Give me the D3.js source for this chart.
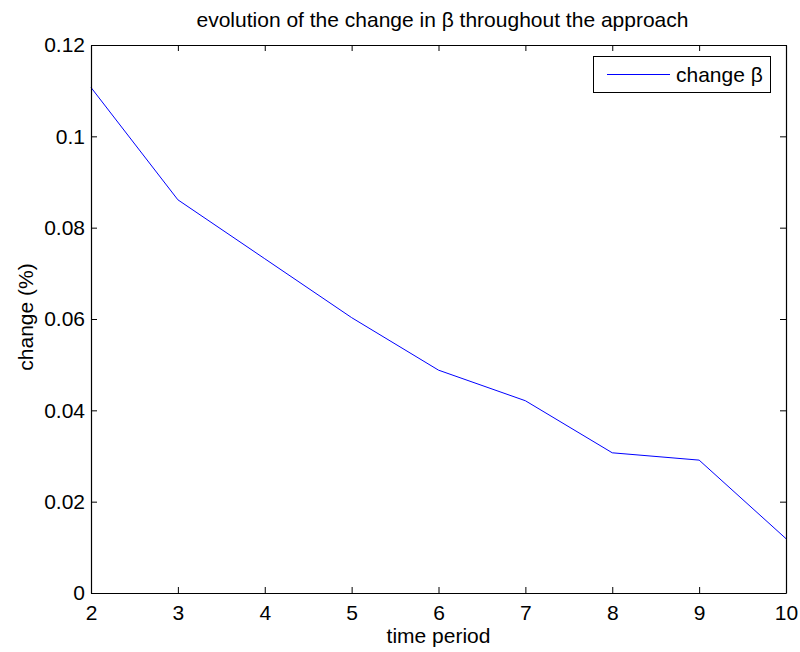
<!DOCTYPE html>
<html>
<head>
<meta charset="utf-8">
<script src="https://cdn.jsdelivr.net/npm/d3@7"></script>
<style>
  html, body { margin: 0; padding: 0; background: #fff; }
  svg { display: block; }
  text { font-family: "Liberation Sans", Arial, Helvetica, sans-serif; fill: #000; }
</style>
</head>
<body>
<svg id="chart" width="800" height="652"></svg>
<script>
// time periods and the change in beta at each one
const periods = [2, 3, 4, 5, 6, 7, 8, 9, 10];
const changeBeta = [0.1107, 0.0861, 0.0732, 0.0603, 0.0488, 0.0421, 0.0307, 0.0291, 0.0119];
const xTicks = [2, 3, 4, 5, 6, 7, 8, 9, 10];
const yTicks = [0, 0.02, 0.04, 0.06, 0.08, 0.1, 0.12];
const yTickLabels = ["0", "0.02", "0.04", "0.06", "0.08", "0.1", "0.12"];

const svg = d3.select("#chart");
const margin = { left: 91, right: 14, top: 45, bottom: 59 };
const W = 800, H = 652;
const x0 = margin.left, x1 = W - margin.right;
const y0 = H - margin.bottom, y1 = margin.top;

const x = d3.scaleLinear().domain([2, 10]).range([x0, x1]);
const y = d3.scaleLinear().domain([0, 0.12]).range([y0, y1]);
const fs = 21;
const tickLen = 6;

// data line
const line = d3.line().x((d, i) => x(periods[i])).y(d => y(d));
svg.append("path")
  .datum(changeBeta)
  .attr("d", line)
  .attr("fill", "none")
  .attr("stroke", "#0000ff")
  .attr("stroke-width", 1);

// axes: bottom and left with labels, top and right ticks only (all inward)
const axisB = d3.axisBottom(x).tickValues(xTicks).tickFormat(d3.format("d"))
  .tickSizeInner(-tickLen).tickSizeOuter(0).tickPadding(12);
const axisT = d3.axisTop(x).tickValues(xTicks).tickFormat("")
  .tickSizeInner(-tickLen).tickSizeOuter(0);
const axisL = d3.axisLeft(y).tickValues(yTicks).tickFormat((d, i) => yTickLabels[i])
  .tickSizeInner(-tickLen).tickSizeOuter(0).tickPadding(6);
const axisR = d3.axisRight(y).tickValues(yTicks).tickFormat("")
  .tickSizeInner(-tickLen).tickSizeOuter(0);

function styleAxis(g) {
  g.select(".domain").attr("stroke", "#000").attr("stroke-width", 1.2);
  g.selectAll(".tick line").attr("stroke", "#000").attr("stroke-width", 1);
  g.selectAll(".tick text").attr("font-size", fs)
    .attr("font-family", "'Liberation Sans', Arial, sans-serif").attr("fill", "#000");
}

svg.append("g").attr("transform", `translate(0,${y0})`).call(axisB).call(styleAxis);
svg.append("g").attr("transform", `translate(0,${y1})`).call(axisT).call(styleAxis);
svg.append("g").attr("transform", `translate(${x0},0)`).call(axisL).call(styleAxis);
svg.append("g").attr("transform", `translate(${x1},0)`).call(axisR).call(styleAxis);

// title and axis labels
svg.append("text")
  .attr("x", (x0 + x1) / 2 + 4).attr("y", 27)
  .attr("text-anchor", "middle").attr("font-size", fs)
  .text("evolution of the change in β throughout the approach");

svg.append("text")
  .attr("x", (x0 + x1) / 2).attr("y", 643)
  .attr("text-anchor", "middle").attr("font-size", fs)
  .text("time period");

svg.append("text")
  .attr("transform", `translate(33,${(y0 + y1) / 2 - 2}) rotate(-90)`)
  .attr("text-anchor", "middle").attr("font-size", fs)
  .text("change (%)");

// legend
const lg = svg.append("g");
lg.append("rect")
  .attr("x", 593.5).attr("y", 56.5).attr("width", 177).attr("height", 36)
  .attr("fill", "#fff").attr("stroke", "#000").attr("stroke-width", 1);
lg.append("line")
  .attr("x1", 607).attr("x2", 670).attr("y1", 74.5).attr("y2", 74.5)
  .attr("stroke", "#0000ff").attr("stroke-width", 1);
lg.append("text")
  .attr("x", 676).attr("y", 82).attr("font-size", fs)
  .text("change β");
</script>
</body>
</html>
